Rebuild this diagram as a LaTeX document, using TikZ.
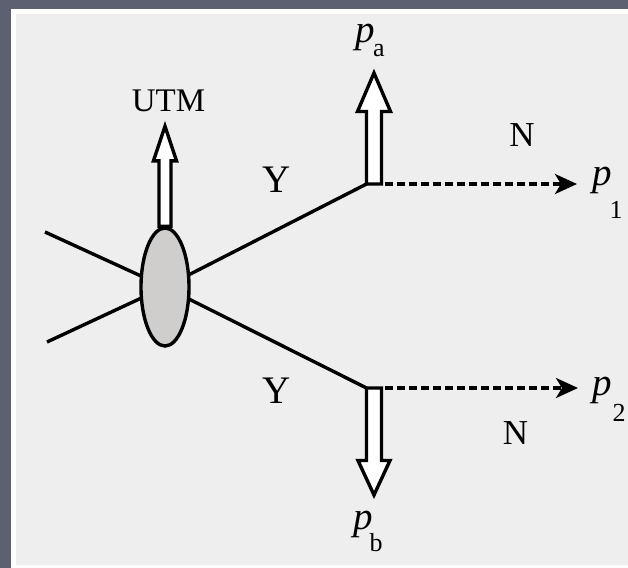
\documentclass[tikz,border=0pt]{standalone}
\usepackage{fontspec}
\setmainfont{Liberation Serif}
\usetikzlibrary{arrows.meta,calc,shapes.geometric}
\definecolor{slate}{RGB}{92,96,112}
\definecolor{panel}{RGB}{238,238,238}
\definecolor{blobgray}{RGB}{208,205,205}
\tikzset{
  leg/.style={line width=1.7pt, black},
  blob/.style={ellipse, draw, line width=1.7pt, fill=blobgray, minimum width=24pt,
               minimum height=59pt, inner sep=0pt},
  fatarrow/.style={draw, fill=white, line width=1.7pt, line join=miter},
  flow/.style={line width=1.7pt, dash pattern=on 4pt off 2pt, shorten <=9pt,
               -{Stealth[length=11pt, width=10pt, inset=3pt]}},
  lbl/.style={inner sep=0pt, font=\fontsize{17.5}{20}\selectfont},
  ylbl/.style={inner sep=0pt, font=\fontsize{19.5}{22}\selectfont},
  utm/.style={inner sep=0pt, font=\fontsize{16.5}{19}\selectfont},
  mom/.style={inner sep=0pt, font=\fontsize{19.5}{22}\selectfont\itshape},
  sub/.style={inner sep=0pt, font=\fontsize{13}{15}\selectfont}
}

\begin{document}
\begin{tikzpicture}[x=0.5pt, y=-0.5pt]
    % frame
    \fill[slate] (0,0) rectangle (628,568);
    \fill[white] (11,9) rectangle (628,568);
    \fill[panel] (16,14) rectangle (628,565);
    % vertex and legs
    \coordinate (vtx) at (165,287);
    \coordinate (in1) at (45,232);
    \coordinate (in2) at (47,342);
    \coordinate (ya) at (366.5,184);
    \coordinate (yb) at (366.5,388);
    \coordinate (tip1) at (577,184);
    \coordinate (tip2) at (578,388);
    \draw[leg] (in1) -- (vtx);
    \draw[leg] (in2) -- (vtx);
    \draw[leg] (vtx) -- (ya);
    \draw[leg] (vtx) -- (yb);
    \node[blob] (blob) at (vtx) {};
    % block arrows
    \draw[fatarrow] ($(blob.north)+(-6,0)$) -- ++(0,-65.5) -- ++(-5.5,0) -- ++(11.5,-34.5)
      -- ++(11.5,34.5) -- ++(-5.5,0) -- ++(0,65.5) -- cycle;
    \draw[fatarrow] (ya) -- ++(0,-72.5) -- ++(-9,0) -- ++(16.5,-38.5)
      -- ++(16.5,38.5) -- ++(-9,0) -- ++(0,72.5) -- cycle;
    \draw[fatarrow] (yb) -- ++(0,72.5) -- ++(-8.5,0) -- ++(16,34.5)
      -- ++(16,-34.5) -- ++(-8.5,0) -- ++(0,-72.5) -- cycle;
    % dashed arrows
    \draw[flow] (ya) -- (tip1);
    \draw[flow] (yb) -- (tip2);
    % labels
    \node[utm] (utmlbl) at (168.5,101) {UTM};
    \node[ylbl] (y1) at (277,180) {Y};
    \node[ylbl] (y2) at (277,391) {Y};
    \node[lbl] (n1) at (522,135.5) {N};
    \node[lbl] (n2) at (515.5,433) {N};
    \node[mom] (pa) at (365,37.5) {p};
    \node[sub] (pasub) at (379,51) {a};
    \node[mom] (pb) at (363,524.5) {p};
    \node[sub] (pbsub) at (376,542.5) {b};
    \node[mom] (p1) at (602,180.5) {p};
    \node[sub] (p1sub) at (616,209.5) {1};
    \node[mom] (p2) at (602.5,390.5) {p};
    \node[sub] (p2sub) at (619,412.5) {2};
  \end{tikzpicture}
\end{document}
